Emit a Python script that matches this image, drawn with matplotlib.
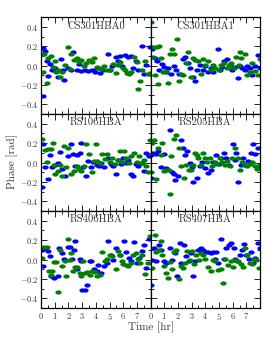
import numpy as np
import matplotlib
matplotlib.use("Agg")
import matplotlib.pyplot as plt
from matplotlib.path import Path
from matplotlib.ticker import MultipleLocator

plt.rcParams['font.family'] = 'serif'
plt.rcParams['font.serif'] = ['cmr10', 'DejaVu Serif']
plt.rcParams['axes.formatter.use_mathtext'] = True
plt.rcParams['mathtext.fontset'] = 'cm'

stations = ["CS301HBA0", "CS301HBA1", "RS106HBA", "RS205HBA", "RS406HBA", "RS407HBA"]

# (time [hr], phase [rad]), blue = XX, green = YY
cs301a_blue = [(0.12, 0.18), (0.12, -0.31), (0.27, 0.15), (0.44, 0.05), (0.5, -0.11), (0.63, 0.02),
               (0.8, -0.04), (1.0, -0.02), (1.2, -0.12), (1.44, 0.07), (1.6, -0.04), (1.7, -0.15),
               (1.93, -0.02), (2.2, -0.05), (2.33, 0.14), (2.6, -0.05), (2.75, 0.02), (2.95, -0.06),
               (3.2, -0.05), (3.45, -0.06), (3.7, -0.04), (3.93, -0.07), (4.1, -0.02), (4.3, -0.08),
               (4.55, -0.05), (4.9, 0.12), (5.0, -0.04), (5.2, 0.0), (5.45, 0.09), (5.65, 0.05),
               (5.75, 0.1), (5.9, 0.0), (6.1, 0.11), (6.35, 0.09), (6.55, 0.1), (6.7, -0.02),
               (6.9, 0.05), (7.1, -0.04), (7.35, 0.2), (7.55, -0.09), (7.7, 0.01), (7.95, 0.19),
               (7.95, -0.09)]
cs301a_green = [(0.12, -0.07), (0.22, 0.12), (0.4, -0.18), (0.5, 0.08), (0.7, 0.1), (0.88, -0.01),
                (1.0, 0.05), (1.12, -0.07), (1.25, -0.04), (1.37, -0.12), (1.54, -0.07), (1.73, 0.01),
                (1.93, 0.19), (2.1, -0.03), (2.22, 0.12), (2.42, 0.06), (2.6, 0.08), (2.76, 0.04),
                (2.95, 0.06), (3.15, 0.0), (3.3, 0.03), (3.5, 0.06), (3.7, 0.04), (3.9, 0.08),
                (4.05, -0.01), (4.22, -0.02), (4.4, -0.03), (4.6, 0.0), (4.78, -0.04), (5.0, -0.05),
                (5.27, 0.02), (5.45, -0.08), (5.6, 0.01), (5.75, 0.04), (5.95, -0.02), (6.1, -0.05),
                (6.25, -0.08), (6.4, -0.09), (6.6, -0.07), (6.8, 0.09), (7.0, 0.04), (7.1, -0.24),
                (7.2, -0.16), (7.4, -0.04), (7.6, 0.05), (7.8, -0.09), (7.95, -0.08)]

cs301b_blue = [(0.0, 0.19), (0.1, 0.17), (0.3, 0.08), (0.5, 0.05), (0.65, -0.04), (0.83, 0.02),
               (1.0, -0.01), (1.15, -0.07), (1.3, -0.02), (1.5, -0.09), (1.7, 0.0), (1.88, -0.05),
               (2.1, -0.09), (2.37, 0.07), (2.55, 0.09), (2.73, 0.03), (2.85, -0.02), (3.1, -0.12),
               (3.22, -0.16), (3.4, -0.04), (3.6, 0.01), (3.83, -0.05), (4.0, 0.0), (4.2, -0.07),
               (4.4, -0.02), (4.55, -0.07), (4.9, 0.17), (5.05, -0.04), (5.2, -0.01), (5.4, 0.05),
               (5.6, 0.07), (5.8, 0.01), (5.95, -0.04), (6.15, -0.01), (6.4, -0.13), (6.5, 0.0),
               (6.7, -0.02), (6.9, -0.04), (7.05, 0.0), (7.25, -0.02), (7.4, -0.1), (7.6, 0.0),
               (7.85, 0.11), (7.98, -0.02)]
cs301b_green = [(0.05, 0.45), (0.2, 0.09), (0.25, 0.19), (0.35, -0.1), (0.5, 0.19), (0.55, -0.19),
                (0.65, 0.2), (0.78, 0.08), (0.9, -0.07), (1.15, -0.06), (1.27, -0.18), (1.4, 0.12),
                (1.55, 0.17), (1.7, 0.12), (1.95, 0.27), (2.05, -0.16), (2.2, -0.09), (2.37, -0.1),
                (2.6, 0.03), (2.73, 0.14), (2.93, -0.12), (3.1, 0.08), (3.27, 0.06), (3.45, 0.05),
                (3.65, -0.09), (3.83, 0.07), (4.0, 0.01), (4.2, 0.05), (4.4, -0.05), (4.55, 0.01),
                (4.68, -0.02), (4.97, -0.04), (5.17, 0.01), (5.37, 0.03), (5.55, -0.02), (5.7, 0.0),
                (5.9, 0.03), (6.1, -0.02), (6.27, 0.09), (6.45, 0.01), (6.56, 0.14), (6.63, 0.08),
                (6.88, 0.12), (7.07, -0.1), (7.25, -0.07), (7.4, 0.03), (7.65, -0.06), (7.85, -0.1),
                (7.98, 0.07)]

rs106_blue = [(0.07, -0.25), (0.15, 0.19), (0.3, -0.05), (0.47, -0.17), (0.63, 0.08), (0.8, -0.05),
              (1.0, -0.02), (1.2, 0.0), (1.4, 0.11), (1.53, -0.07), (1.73, -0.14), (1.93, 0.07),
              (2.17, 0.19), (2.35, 0.09), (2.5, -0.04), (2.66, 0.08), (2.83, 0.1), (2.9, 0.2),
              (3.07, -0.05), (3.25, -0.14), (3.44, 0.02), (3.63, -0.05), (3.8, 0.01), (4.05, -0.02),
              (4.2, -0.04), (4.4, 0.0), (4.6, -0.05), (4.9, 0.05), (5.1, -0.01), (5.27, -0.04),
              (5.44, -0.12), (5.63, 0.03), (5.83, -0.01), (6.0, 0.05), (6.17, 0.0), (6.37, 0.03),
              (6.56, -0.12), (6.73, -0.14), (6.9, -0.01), (7.1, -0.04), (7.34, 0.0), (7.53, -0.09),
              (7.7, 0.1), (7.88, 0.07)]
rs106_green = [(0.07, 0.24), (0.27, 0.13), (0.46, 0.01), (0.51, 0.14), (0.71, 0.14), (0.88, 0.2),
               (0.95, -0.02), (1.05, -0.12), (1.2, -0.09), (1.37, -0.02), (1.54, -0.14), (1.68, 0.17),
               (1.85, -0.05), (2.0, 0.15), (2.22, -0.12), (2.41, -0.09), (2.6, -0.04), (2.76, -0.07),
               (2.95, -0.09), (3.15, -0.04), (3.3, 0.19), (3.5, 0.09), (3.7, -0.1), (3.9, 0.02),
               (4.0, 0.19), (4.12, 0.02), (4.3, 0.0), (4.47, 0.09), (4.66, 0.04), (4.85, 0.09),
               (5.02, 0.01), (5.2, 0.05), (5.4, -0.01), (5.6, 0.03), (5.75, 0.12), (5.93, 0.01),
               (6.07, 0.12), (6.24, 0.05), (6.41, 0.0), (6.6, 0.07), (6.8, 0.1), (6.98, 0.01),
               (7.15, 0.07), (7.34, 0.0), (7.54, 0.03), (7.7, -0.04), (7.83, -0.1), (7.98, 0.23)]

rs205_blue = [(0.0, 0.08), (0.05, -0.16), (0.17, 0.1), (0.4, 0.09), (0.54, 0.12), (0.73, -0.05),
              (0.98, 0.09), (1.15, -0.06), (1.39, 0.34), (1.56, -0.1), (1.7, -0.12), (1.8, -0.18),
              (2.0, -0.14), (2.2, 0.23), (2.37, 0.15), (2.54, 0.08), (2.68, 0.12), (2.85, 0.0),
              (3.0, -0.05), (3.1, -0.2), (3.41, -0.16), (3.6, -0.04), (3.76, 0.01), (4.0, -0.06),
              (4.2, -0.11), (4.39, -0.08), (4.56, 0.01), (4.8, 0.08), (4.98, -0.01), (5.17, 0.05),
              (5.37, 0.1), (5.54, 0.05), (5.7, -0.02), (6.0, 0.19), (6.15, 0.03), (6.27, 0.1),
              (6.4, -0.2), (6.6, -0.02), (6.76, 0.05), (6.93, -0.02), (7.12, 0.02), (7.32, 0.1),
              (7.5, 0.19), (7.66, 0.09), (7.85, 0.15), (7.98, -0.04)]
rs205_green = [(0.0, -0.1), (0.1, 0.2), (0.24, 0.23), (0.41, -0.17), (0.54, 0.15), (0.73, 0.08),
               (0.83, 0.2), (0.98, -0.09), (1.15, -0.08), (1.32, -0.08), (1.41, -0.32), (1.5, 0.07),
               (1.7, 0.24), (1.88, 0.28), (2.05, 0.15), (2.24, -0.04), (2.44, -0.16), (2.6, -0.03),
               (2.78, -0.08), (2.93, -0.08), (3.1, -0.02), (3.22, 0.1), (3.37, 0.08), (3.5, 0.05),
               (3.7, -0.02), (3.83, 0.1), (4.0, 0.05), (4.15, 0.01), (4.32, 0.05), (4.5, -0.04),
               (4.68, 0.01), (4.88, -0.01), (5.05, 0.05), (5.22, 0.01), (5.41, -0.03), (5.6, 0.02),
               (5.78, -0.04), (5.95, 0.05), (6.2, 0.15), (6.39, 0.05), (6.51, -0.08), (6.68, 0.01),
               (6.88, -0.02), (7.07, -0.04), (7.24, -0.01), (7.41, 0.01), (7.6, -0.04), (7.8, -0.07),
               (7.98, -0.02)]

rs406_blue = [(0.07, 0.1), (0.15, -0.07), (0.32, 0.12), (0.5, 0.09), (0.63, 0.04), (0.76, -0.17),
              (0.95, -0.19), (1.2, -0.17), (1.3, 0.12), (1.54, 0.07), (1.68, 0.01), (1.93, 0.13),
              (2.1, 0.13), (2.27, 0.01), (2.41, 0.1), (2.5, 0.19), (2.66, -0.1), (2.83, 0.01),
              (2.95, -0.02), (3.0, -0.31), (3.2, -0.31), (3.39, -0.26), (3.56, -0.01), (3.68, -0.01),
              (3.88, -0.1), (4.05, -0.12), (4.17, -0.06), (4.41, -0.14), (4.6, -0.07), (4.78, -0.04),
              (4.9, 0.19), (5.1, 0.05), (5.27, 0.0), (5.5, 0.12), (5.76, 0.05), (6.07, 0.19),
              (6.24, 0.08), (6.41, 0.02), (6.6, -0.02), (6.8, 0.18), (6.98, -0.04), (7.15, 0.02),
              (7.39, 0.09), (7.54, 0.15), (7.7, -0.09), (7.9, 0.21)]
rs406_green = [(0.07, 0.02), (0.22, 0.13), (0.4, 0.13), (0.56, -0.12), (0.7, -0.16), (0.8, -0.12),
               (0.95, -0.03), (1.12, -0.03), (1.2, -0.33), (1.37, 0.1), (1.54, -0.07), (1.73, -0.02),
               (1.85, -0.17), (1.93, 0.21), (2.1, 0.0), (2.22, 0.07), (2.34, -0.12), (2.5, -0.08),
               (2.66, -0.08), (2.83, -0.14), (2.95, -0.17), (3.07, -0.02), (3.2, -0.14), (3.39, -0.13),
               (3.56, -0.16), (3.73, -0.12), (3.93, -0.13), (4.12, -0.17), (4.3, -0.16), (4.46, 0.08),
               (4.66, -0.01), (4.85, 0.01), (5.02, 0.05), (5.2, 0.04), (5.44, -0.1), (5.63, 0.09),
               (5.76, 0.05), (5.88, -0.02), (6.0, -0.05), (6.17, -0.06), (6.37, -0.07), (6.56, -0.04),
               (6.73, 0.05), (6.9, 0.07), (7.1, 0.01), (7.22, -0.04), (7.39, 0.05), (7.59, -0.15),
               (7.78, -0.04), (7.98, 0.24)]

rs407_blue = [(0.0, -0.26), (0.1, 0.0), (0.24, 0.12), (0.41, -0.02), (0.59, 0.15), (0.78, 0.1),
              (0.98, -0.02), (1.15, -0.04), (1.39, 0.12), (1.56, 0.0), (1.76, 0.07), (1.95, -0.17),
              (2.12, 0.17), (2.24, -0.04), (2.44, 0.15), (2.6, 0.04), (2.78, -0.02), (2.98, 0.07),
              (3.1, -0.17), (3.27, -0.02), (3.46, 0.1), (3.66, 0.12), (3.83, 0.1), (4.0, 0.08),
              (4.2, 0.08), (4.39, 0.07), (4.56, 0.08), (4.68, 0.01), (4.8, 0.08), (4.93, -0.04),
              (5.17, 0.21), (5.37, 0.01), (5.54, 0.12), (5.7, 0.15), (5.9, 0.17), (6.1, 0.12),
              (6.2, 0.01), (6.34, -0.01), (6.5, 0.05), (6.68, 0.1), (6.83, 0.16), (7.0, 0.05),
              (7.17, 0.01), (7.32, 0.08), (7.49, -0.04), (7.66, 0.02), (7.85, 0.17), (7.98, 0.12)]
rs407_green = [(0.0, -0.09), (0.1, -0.09), (0.29, 0.25), (0.41, 0.08), (0.59, 0.1), (0.73, 0.19),
               (0.83, 0.05), (0.98, -0.07), (1.15, -0.14), (1.27, -0.19), (1.39, -0.03), (1.56, -0.1),
               (1.71, 0.08), (1.88, 0.1), (2.05, -0.2), (2.2, -0.07), (2.37, -0.09), (2.54, -0.04),
               (2.68, 0.09), (2.85, 0.0), (3.02, 0.09), (3.17, -0.05), (3.34, 0.05), (3.51, 0.0),
               (3.66, 0.07), (3.83, 0.05), (4.0, 0.01), (4.2, -0.08), (4.39, -0.12), (4.56, 0.0),
               (4.73, -0.02), (4.93, -0.11), (5.12, -0.1), (5.29, -0.24), (5.46, 0.01), (5.66, -0.06),
               (5.85, -0.02), (6.02, -0.08), (6.2, 0.0), (6.39, -0.02), (6.59, -0.05), (6.76, -0.08),
               (6.93, 0.12), (7.07, 0.05), (7.24, -0.04), (7.41, -0.05), (7.56, 0.01), (7.73, 0.0),
               (7.9, -0.09)]

blue_sets = [cs301a_blue, cs301b_blue, rs106_blue, rs205_blue, rs406_blue, rs407_blue]
green_sets = [cs301a_green, cs301b_green, rs106_green, rs205_green, rs406_green, rs407_green]

# squashed circle marker (dots look wider than tall in the original)
th = np.linspace(0, 2 * np.pi, 40)
ellipse = Path(np.column_stack([np.cos(th), 0.68 * np.sin(th)]), closed=True)

fig, axes = plt.subplots(3, 2, figsize=(2.74, 3.43), dpi=100, sharex=True, sharey=True)
fig.subplots_adjust(left=0.15, right=0.949, bottom=0.102, top=0.95, wspace=0, hspace=0)

for i, ax in enumerate(axes.flat):
    b = np.array(blue_sets[i])
    g = np.array(green_sets[i])
    ax.plot(b[:, 0], b[:, 1], ls='none', marker=ellipse, ms=4.5, color='#0000ff', mec='none')
    ax.plot(g[:, 0], g[:, 1], ls='none', marker=ellipse, ms=4.5, color='#008000', mec='none')
    ax.set_xlim(0, 8)
    ax.set_ylim(-0.5, 0.5)
    ax.xaxis.set_major_locator(MultipleLocator(1))
    ax.xaxis.set_minor_locator(MultipleLocator(0.5))
    ax.yaxis.set_major_locator(MultipleLocator(0.2))
    ax.yaxis.set_minor_locator(MultipleLocator(0.1))
    ax.tick_params(which='both', direction='in', top=True, right=True, labelsize=6,
                   labelcolor='#333333', pad=2, width=0.6)
    ax.tick_params(which='major', length=4)
    ax.tick_params(which='minor', length=2)
    for s in ax.spines.values():
        s.set_linewidth(0.9)
    ax.text(0.5, 0.96, stations[i], transform=ax.transAxes, ha='center', va='top',
            fontsize=7.6, color='#333333', zorder=5)

axes[2, 0].set_xticks([0, 1, 2, 3, 4, 5, 6, 7])
fig.text(0.045, 0.53, 'Phase [rad]', rotation=90, ha='center', va='center', fontsize=8, color='#333333')
fig.text(0.55, 0.045, 'Time [hr]', ha='center', va='center', fontsize=8, color='#333333')

fig.savefig('out.png', dpi=100)
